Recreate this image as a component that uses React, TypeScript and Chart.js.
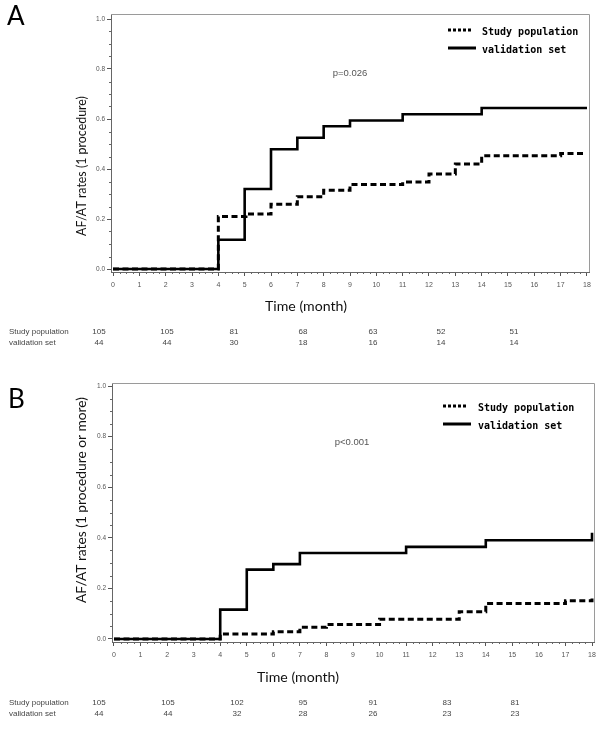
import React, { useEffect, useRef } from "react";
import { Chart, registerables } from "chart.js";

Chart.register(...registerables);

// ---------- data ----------
const MONTH_TICKS = [0, 1, 2, 3, 4, 5, 6, 7, 8, 9, 10, 11, 12, 13, 14, 15, 16, 17, 18];
const RATE_TICKS = [0, 0.2, 0.4, 0.6, 0.8, 1.0];

const SERIES_NAMES = ["Study population", "validation set"];

// Panel A: 1 procedure
const A_STUDY_MONTHS = [0, 4, 5.05, 6, 7, 8, 9, 11, 12, 13, 14, 17, 17.85];
const A_STUDY_RATES = [0, 0.21, 0.22, 0.259, 0.289, 0.315, 0.338, 0.348, 0.38, 0.42, 0.453, 0.462, 0.462];
const A_VALID_MONTHS = [0, 4, 5, 6, 7, 8, 9, 11, 14, 18];
const A_VALID_RATES = [0, 0.117, 0.32, 0.479, 0.525, 0.571, 0.594, 0.619, 0.644, 0.644];

// Panel B: 1 procedure or more
const B_STUDY_MONTHS = [0, 4, 6, 7, 8, 10, 13, 14, 17, 18, 18];
const B_STUDY_RATES = [0, 0.02, 0.029, 0.046, 0.057, 0.078, 0.108, 0.14, 0.151, 0.151, 0.16];
const B_VALID_MONTHS = [0, 4, 5, 6, 7, 11, 14, 18, 18];
const B_VALID_RATES = [0, 0.116, 0.274, 0.296, 0.34, 0.364, 0.39, 0.39, 0.42];

// Numbers at risk
const A_RISK_STUDY = [105, 105, 81, 68, 63, 52, 51];
const A_RISK_VALID = [44, 44, 30, 18, 16, 14, 14];
const B_RISK_STUDY = [105, 105, 102, 95, 91, 83, 81];
const B_RISK_VALID = [44, 44, 32, 28, 26, 23, 23];

const A_PVALUE = "p=0.026";
const B_PVALUE = "p<0.001";
const A_YTITLE = "AF/AT rates (1 procedure)";
const B_YTITLE = "AF/AT rates (1 procedure or more)";
const X_TITLE = "Time (month)";

// ---------- layout ----------
type Spec = {
  top: number;
  height: number;
  letter: string;
  letterPos: [number, number];
  yTitle: string;
  yTitleCenter: [number, number];
  yTitleWidth: number;
  xTitleCenter: [number, number];
  xTitleWidth: number;
  pText: string;
  pCenter: [number, number];
  legendX: number;
  legendTextX: number;
  legendY: [number, number];
  tableY: [number, number];
  tableX: number[];
  riskStudy: number[];
  riskValid: number[];
  studyMonths: number[];
  studyRates: number[];
  validMonths: number[];
  validRates: number[];
  padding: { left: number; top: number; right: number; bottom: number };
  yWidth: number;
  xMin: number;
  xMax: number;
  yMin: number;
  yMax: number;
};

const SPEC_A: Spec = {
  top: 0,
  height: 366,
  letter: "A",
  letterPos: [7, 25],
  yTitle: A_YTITLE,
  yTitleCenter: [82, 166],
  yTitleWidth: 140,
  xTitleCenter: [306, 306],
  xTitleWidth: 82,
  pText: A_PVALUE,
  pCenter: [350, 73],
  legendX: 448,
  legendTextX: 482,
  legendY: [30, 48],
  tableY: [332, 343],
  tableX: [99, 167, 234, 303, 373, 441, 514],
  riskStudy: A_RISK_STUDY,
  riskValid: A_RISK_VALID,
  studyMonths: A_STUDY_MONTHS,
  studyRates: A_STUDY_RATES,
  validMonths: A_VALID_MONTHS,
  validRates: A_VALID_RATES,
  padding: { left: 0, top: 14, right: 15, bottom: 74 },
  yWidth: 111,
  xMin: -0.076,
  xMax: 18.076,
  yMin: -0.012,
  yMax: 1.02,
};

const SPEC_B: Spec = {
  top: 366,
  height: 367,
  letter: "B",
  letterPos: [8, 42],
  yTitle: B_YTITLE,
  yTitleCenter: [82, 134],
  yTitleWidth: 206,
  xTitleCenter: [298, 311],
  xTitleWidth: 82,
  pText: B_PVALUE,
  pCenter: [352, 76],
  legendX: 443,
  legendTextX: 478,
  legendY: [40, 58],
  tableY: [337, 348],
  tableX: [99, 168, 237, 303, 373, 447, 515],
  riskStudy: B_RISK_STUDY,
  riskValid: B_RISK_VALID,
  studyMonths: B_STUDY_MONTHS,
  studyRates: B_STUDY_RATES,
  validMonths: B_VALID_MONTHS,
  validRates: B_VALID_RATES,
  padding: { left: 0, top: 17, right: 10, bottom: 71 },
  yWidth: 112,
  xMin: -0.075,
  xMax: 18.075,
  yMin: -0.012,
  yMax: 1.012,
};

function fitText(ctx: CanvasRenderingContext2D, text: string, family: string, target: number) {
  ctx.font = `14px ${family}`;
  const w = ctx.measureText(text).width;
  const size = (14 * target) / w;
  ctx.font = `${size}px ${family}`;
}

function makePlugin(spec: Spec) {
  return {
    id: "decor",
    beforeDatasetsDraw(chart: any) {
      const { ctx, chartArea } = chart;
      const xs = chart.scales.x;
      const ys = chart.scales.y;
      ctx.save();
      // top and right frame
      ctx.strokeStyle = "#9a9a9a";
      ctx.lineWidth = 1;
      ctx.beginPath();
      ctx.moveTo(chartArea.left, chartArea.top + 0.5);
      ctx.lineTo(chartArea.right + 0.5, chartArea.top + 0.5);
      ctx.lineTo(chartArea.right + 0.5, chartArea.bottom);
      ctx.stroke();
      // minor ticks
      ctx.strokeStyle = "#666";
      ctx.beginPath();
      for (let q = 0; q <= 72; q++) {
        if (q % 4 === 0) continue;
        const px = Math.round(xs.getPixelForValue(q / 4)) + 0.5;
        ctx.moveTo(px, chartArea.bottom);
        ctx.lineTo(px, chartArea.bottom + 2);
      }
      for (let k = 0; k <= 20; k++) {
        if (k % 4 === 0) continue;
        const py = Math.round(ys.getPixelForValue(k * 0.05)) + 0.5;
        ctx.moveTo(chartArea.left - 2, py);
        ctx.lineTo(chartArea.left, py);
      }
      ctx.stroke();
      ctx.restore();
    },
    afterDraw(chart: any) {
      const { ctx } = chart;
      ctx.save();
      // panel letter
      ctx.fillStyle = "#000";
      ctx.font = "26px Lato";
      ctx.textAlign = "left";
      ctx.textBaseline = "alphabetic";
      ctx.fillText(spec.letter, spec.letterPos[0], spec.letterPos[1]);

      // y title
      ctx.save();
      ctx.translate(spec.yTitleCenter[0], spec.yTitleCenter[1]);
      ctx.rotate(-Math.PI / 2);
      fitText(ctx, spec.yTitle, "Lato", spec.yTitleWidth);
      ctx.textAlign = "center";
      ctx.textBaseline = "middle";
      ctx.fillStyle = "#111";
      ctx.fillText(spec.yTitle, 0, 0);
      ctx.restore();

      // x title
      fitText(ctx, X_TITLE, "Lato", spec.xTitleWidth);
      ctx.textAlign = "center";
      ctx.textBaseline = "middle";
      ctx.fillStyle = "#111";
      ctx.fillText(X_TITLE, spec.xTitleCenter[0], spec.xTitleCenter[1]);

      // p value
      ctx.font = "9.5px 'Liberation Sans'";
      ctx.fillStyle = "#555";
      ctx.fillText(spec.pText, spec.pCenter[0], spec.pCenter[1]);

      // legend
      ctx.strokeStyle = "#000";
      ctx.lineCap = "butt";
      ctx.lineWidth = 3;
      ctx.setLineDash([3, 2]);
      ctx.beginPath();
      ctx.moveTo(spec.legendX, spec.legendY[0]);
      ctx.lineTo(spec.legendX + 24, spec.legendY[0]);
      ctx.stroke();
      ctx.setLineDash([]);
      ctx.beginPath();
      ctx.moveTo(spec.legendX, spec.legendY[1]);
      ctx.lineTo(spec.legendX + 28, spec.legendY[1]);
      ctx.stroke();
      ctx.font = "bold 10px 'DejaVu Sans Mono'";
      ctx.fillStyle = "#000";
      ctx.textAlign = "left";
      ctx.textBaseline = "middle";
      ctx.fillText(SERIES_NAMES[0], spec.legendTextX, spec.legendY[0] + 2.5);
      ctx.fillText(SERIES_NAMES[1], spec.legendTextX, spec.legendY[1] + 2.5);

      // numbers at risk
      ctx.font = "8px 'Liberation Sans'";
      ctx.fillStyle = "#444";
      ctx.textAlign = "left";
      ctx.fillText(SERIES_NAMES[0], 9, spec.tableY[0]);
      ctx.fillText(SERIES_NAMES[1], 9, spec.tableY[1]);
      ctx.textAlign = "center";
      spec.riskStudy.forEach((n, i) => ctx.fillText(String(n), spec.tableX[i], spec.tableY[0]));
      spec.riskValid.forEach((n, i) => ctx.fillText(String(n), spec.tableX[i], spec.tableY[1]));
      ctx.restore();
    },
  };
}

function buildConfig(spec: Spec): any {
  const toPts = (ms: number[], rs: number[]) => ms.map((m, i) => ({ x: m, y: rs[i] }));
  return {
    type: "line",
    data: {
      datasets: [
        {
          label: SERIES_NAMES[1],
          data: toPts(spec.validMonths, spec.validRates),
          borderColor: "#000",
          borderWidth: 2.6,
          stepped: "before",
          pointRadius: 0,
          fill: false,
          borderJoinStyle: "miter",
        },
        {
          label: SERIES_NAMES[0],
          data: toPts(spec.studyMonths, spec.studyRates),
          borderColor: "#000",
          borderWidth: 3,
          borderDash: [6, 3.5],
          stepped: "before",
          pointRadius: 0,
          fill: false,
          borderJoinStyle: "miter",
        },
      ],
    },
    options: {
      responsive: false,
      animation: false,
      devicePixelRatio: 1,
      layout: { padding: spec.padding },
      plugins: { legend: { display: false }, tooltip: { enabled: false }, title: { display: false } },
      scales: {
        x: {
          type: "linear",
          min: spec.xMin,
          max: spec.xMax,
          afterBuildTicks: (s: any) => {
            s.ticks = MONTH_TICKS.map((v) => ({ value: v }));
          },
          afterFit: (s: any) => {
            s.height = 20;
          },
          ticks: {
            autoSkip: false,
            maxRotation: 0,
            minRotation: 0,
            padding: 5,
            color: "#555",
            font: { family: "'Liberation Sans'", size: 7 },
            callback: (v: any) => String(v),
          },
          grid: { drawOnChartArea: false, drawTicks: true, tickLength: 4, tickColor: "#555" },
          border: { color: "#666", width: 1 },
        },
        y: {
          type: "linear",
          min: spec.yMin,
          max: spec.yMax,
          afterBuildTicks: (s: any) => {
            s.ticks = RATE_TICKS.map((v) => ({ value: v }));
          },
          afterFit: (s: any) => {
            s.width = spec.yWidth;
          },
          ticks: {
            padding: 2,
            color: "#555",
            font: { family: "'Liberation Sans'", size: 6.5 },
            callback: (v: any) => Number(v).toFixed(1),
          },
          grid: { drawOnChartArea: false, drawTicks: true, tickLength: 4, tickColor: "#555" },
          border: { color: "#666", width: 1 },
        },
      },
    },
    plugins: [makePlugin(spec)],
  };
}

function Panel({ spec }: { spec: Spec }) {
  const ref = useRef<HTMLCanvasElement | null>(null);
  useEffect(() => {
    if (!ref.current) return;
    const chart = new Chart(ref.current, buildConfig(spec));
    return () => chart.destroy();
  }, [spec]);
  return (
    <canvas
      ref={ref}
      width={604}
      height={spec.height}
      style={{ position: "absolute", left: 0, top: spec.top, width: 604, height: spec.height, display: "block" }}
    />
  );
}

export default function App() {
  return (
    <div style={{ position: "absolute", left: 0, top: 0, width: 604, height: 733, background: "#fff", overflow: "hidden" }}>
      <Panel spec={SPEC_A} />
      <Panel spec={SPEC_B} />
    </div>
  );
}
